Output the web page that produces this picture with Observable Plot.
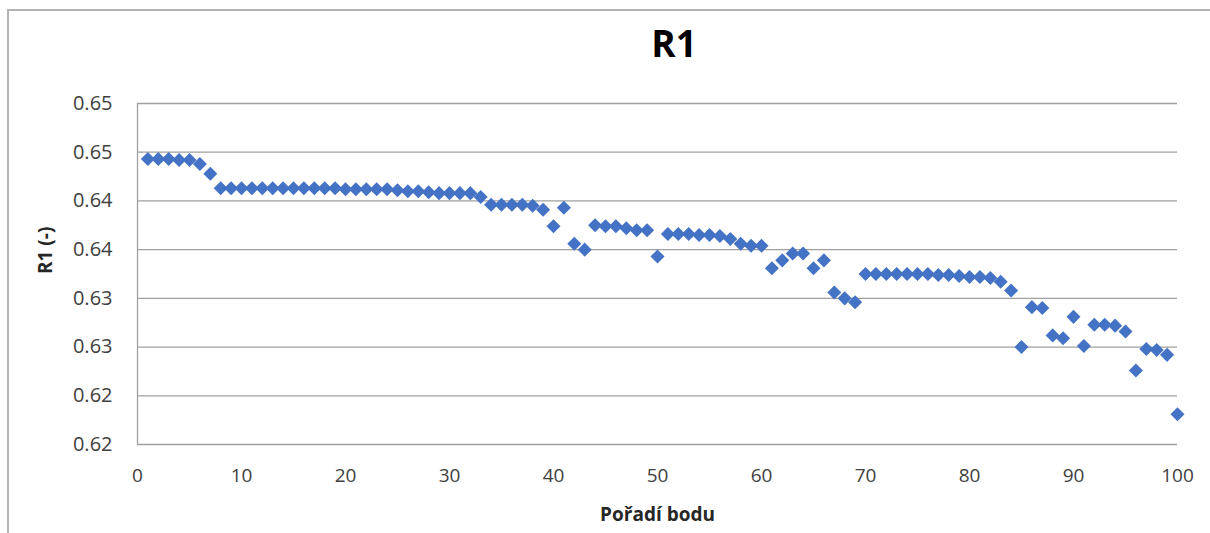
<!DOCTYPE html>
<html>
<head>
<meta charset="utf-8">
<script src="https://cdn.jsdelivr.net/npm/d3@7"></script>
<script src="https://cdn.jsdelivr.net/npm/@observablehq/plot@0.6"></script>
<style>
  html, body { margin: 0; padding: 0; background: #fff; }
  #wrap { position: relative; width: 1210px; height: 533px; overflow: hidden; font-family: "Open Sans", sans-serif; }
  #border { position: absolute; left: 7px; top: 9px; width: 1300px; height: 700px; border-left: 2px solid #b4b4b4; border-top: 2px solid #b4b4b4; }
  #title { position: absolute; left: 574px; width: 200px; top: 21px; text-align: center; font-size: 37px; font-weight: bold; line-height: 44px; color: #000; }
  #chart { position: absolute; left: 0; top: 80px; }
</style>
</head>
<body>
<div id="wrap">
  <div id="border"></div>
  <div id="title">R1</div>
  <div id="chart"></div>
</div>
<script>
const titleText = "R1";
const xLabel = "Pořadí bodu";
const yLabel = "R1 (-)";

const pointIndex = d3.range(1, 101);
const r1Values = [
  0.6443, 0.6443, 0.6443, 0.6442, 0.6442, 0.6438, 0.6428, 0.6413, 0.6413, 0.6413,
  0.6413, 0.6413, 0.6413, 0.6413, 0.6413, 0.6413, 0.6413, 0.6413, 0.6413, 0.6412,
  0.6412, 0.6412, 0.6412, 0.6412, 0.6411, 0.6410, 0.6410, 0.6409, 0.6408, 0.6408,
  0.6408, 0.6408, 0.6404, 0.6396, 0.6396, 0.6396, 0.6396, 0.6395, 0.6391, 0.6374,
  0.6393, 0.6356, 0.6350, 0.6375, 0.6374, 0.6374, 0.6372, 0.6370, 0.6370, 0.6343,
  0.6366, 0.6366, 0.6366, 0.6365, 0.6365, 0.6364, 0.6361, 0.6356, 0.6354, 0.6354,
  0.6331, 0.6339, 0.6346, 0.6346, 0.6331, 0.6339, 0.6306, 0.6300, 0.6296, 0.6325,
  0.6325, 0.6325, 0.6325, 0.6325, 0.6325, 0.6325, 0.6324, 0.6324, 0.6323, 0.6322,
  0.6322, 0.6321, 0.6317, 0.6308, 0.6250, 0.6291, 0.6290, 0.6262, 0.6259, 0.6281,
  0.6251, 0.6273, 0.6273, 0.6272, 0.6266, 0.6226, 0.6248, 0.6247, 0.6242, 0.6181
];

const xTicks = [0, 10, 20, 30, 40, 50, 60, 70, 80, 90, 100];
const yTicks = [0.615, 0.620, 0.625, 0.630, 0.635, 0.640, 0.645, 0.650];
const yTickLabels = ["0.62", "0.62", "0.63", "0.63", "0.64", "0.64", "0.65", "0.65"];

const data = pointIndex.map((x, i) => ({x, y: r1Values[i]}));

document.getElementById("title").textContent = titleText;

const chart = Plot.plot({
  width: 1210,
  height: 453,
  marginTop: 23,
  marginBottom: 89,
  marginLeft: 137,
  marginRight: 33,
  style: { fontFamily: "'Open Sans', sans-serif", fontSize: "20px", color: "#404040", background: "transparent", overflow: "visible" },
  x: { domain: [0, 100], ticks: xTicks, tickSize: 0, tickPadding: 24, label: null },
  y: { domain: [0.615, 0.650], ticks: yTicks, tickSize: 0, tickPadding: 25, label: null,
       tickFormat: (d) => yTickLabels[yTicks.findIndex(t => Math.abs(t - d) < 1e-9)] },
  marks: [
    Plot.ruleY(yTicks, { stroke: "#a0a0a0", strokeWidth: 1.3 }),
    Plot.ruleX([0], { stroke: "#a0a0a0", strokeWidth: 1.3 }),
    Plot.axisX({ ticks: xTicks, tickSize: 0, tickPadding: 24, fontSize: 19, fill: "#404040", label: null }),
    Plot.axisY({ ticks: yTicks, tickSize: 0, tickPadding: 25, fontSize: 20, fill: "#404040", label: null,
       tickFormat: (d) => yTickLabels[yTicks.findIndex(t => Math.abs(t - d) < 1e-9)] }),
    Plot.dot(data, { x: "x", y: "y", symbol: "square", r: 5.6, rotate: 45, fill: "#4472C4", stroke: "none" }),
    Plot.text([xLabel], { frameAnchor: "bottom", dy: 76, fontSize: 19, fontWeight: "bold", fill: "#262626" }),
    Plot.text([yLabel], { frameAnchor: "left", dx: -92, rotate: -90, fontSize: 19, fontWeight: "bold", fill: "#262626" })
  ]
});
document.getElementById("chart").appendChild(chart);
</script>
</body>
</html>
